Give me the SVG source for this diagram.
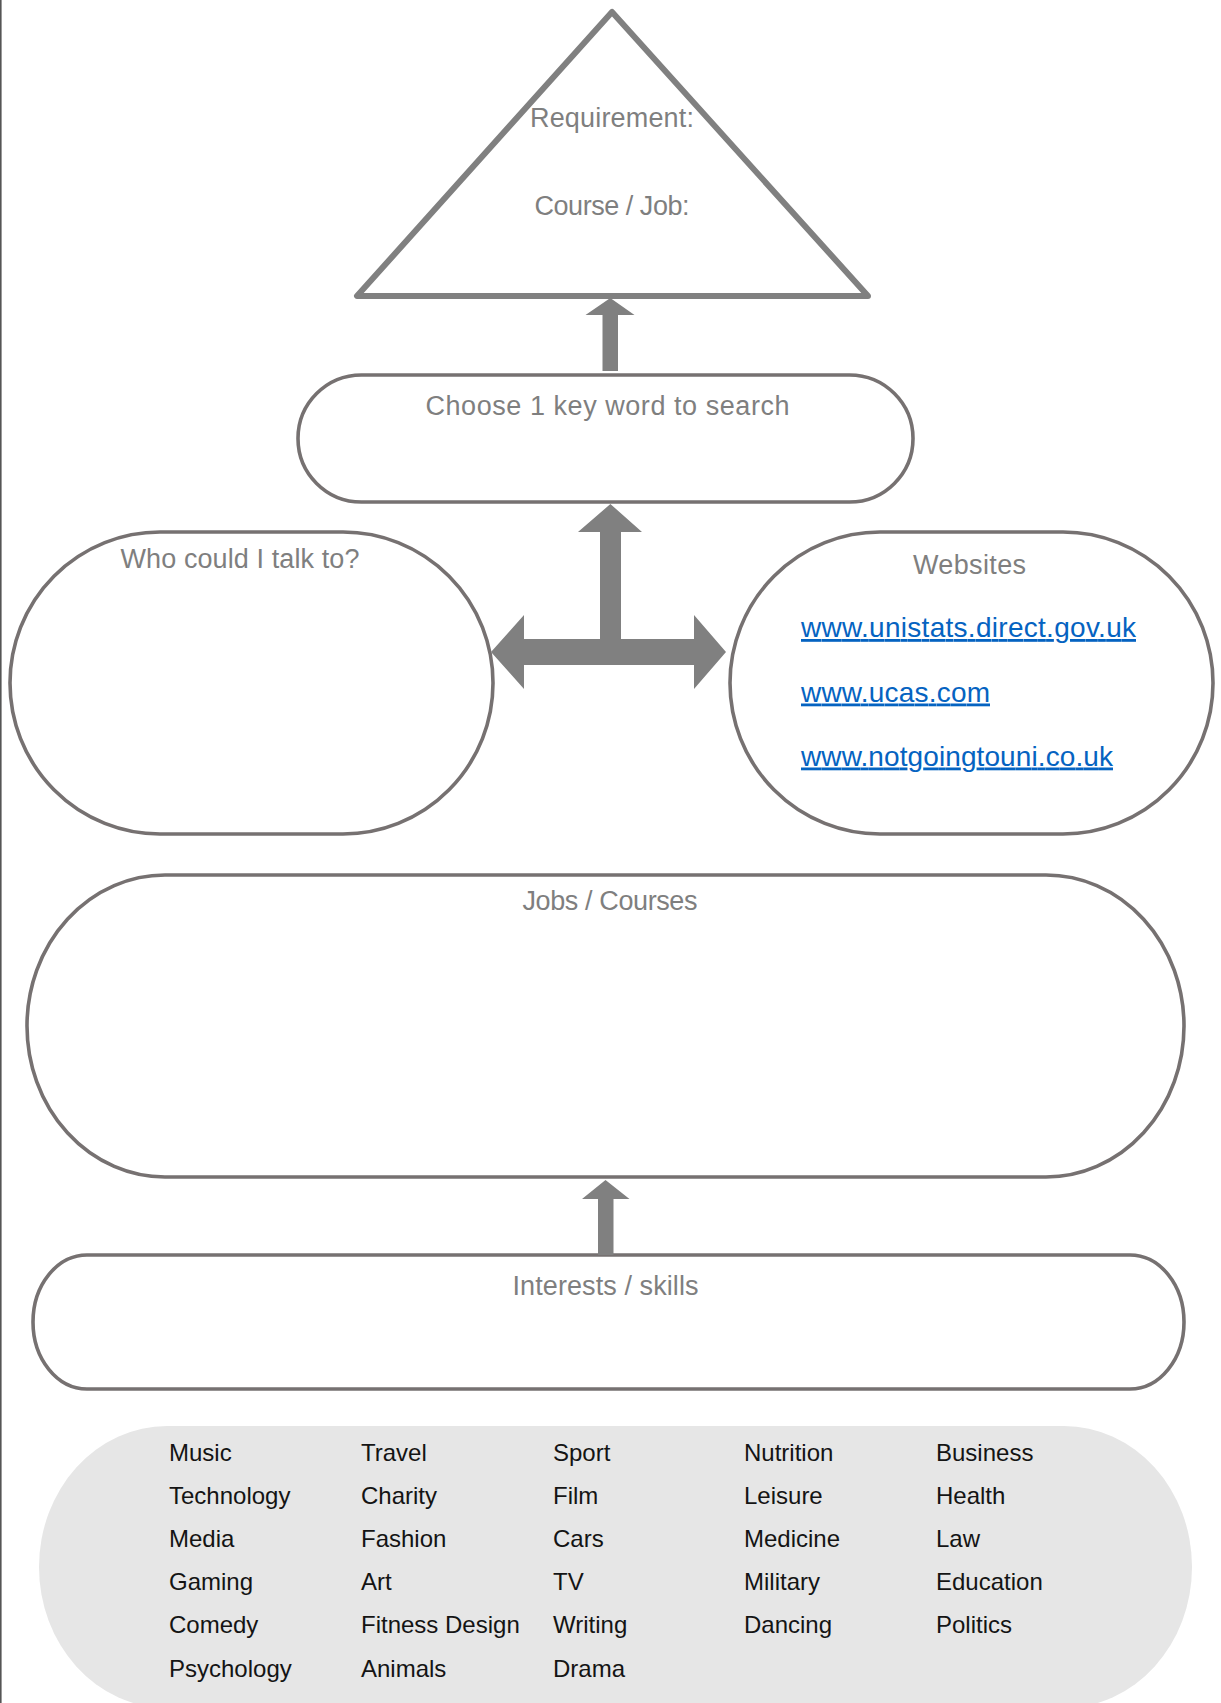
<svg xmlns="http://www.w3.org/2000/svg" width="1221" height="1703" viewBox="0 0 1221 1703">
<style>
.pill{fill:#ffffff;stroke:#767171;stroke-width:3.6}
.tri{fill:#ffffff;stroke:#808080;stroke-width:6;stroke-linejoin:round}
.arrow{fill:#808080;stroke:none}
.head{font-family:"Liberation Sans",Arial,sans-serif;font-size:27px;fill:#7f7f7f;text-anchor:middle}
.link{font-family:"Liberation Sans",Arial,sans-serif;font-size:28px;fill:#0563c1;text-decoration:underline}
.word{font-family:"Liberation Sans",Arial,sans-serif;font-size:24px;fill:#141414}
</style>
<rect x="0" y="0" width="1221" height="1703" fill="#ffffff"/>
<line x1="0.8" y1="0" x2="0.8" y2="1703" stroke="#555555" stroke-width="1.6"/>

<g id="requirement">
<polygon class="tri" points="612,12 357,296 868,296"/>
<text class="head" x="612" y="127" textLength="164">Requirement:</text>
<text class="head" x="612" y="215" textLength="155">Course / Job:</text>
</g>

<g id="keyword">
<rect class="pill" x="298" y="375" width="615" height="127" rx="63.5" ry="63.5"/>
<text class="head" x="607.5" y="415" textLength="364">Choose 1 key word to search</text>
</g>

<g id="talk">
<rect class="pill" x="10" y="532" width="483" height="302" rx="150" ry="151"/>
<text class="head" x="240" y="568" textLength="239">Who could I talk to?</text>
</g>

<g id="websites">
<rect class="pill" x="730" y="532" width="483" height="302" rx="150" ry="151"/>
<text class="head" x="969.5" y="573.5" textLength="113">Websites</text>
<text class="link" x="801" y="637" textLength="335">www.unistats.direct.gov.uk</text>
<text class="link" x="801" y="701.5" textLength="189">www.ucas.com</text>
<text class="link" x="801" y="765.5" textLength="312">www.notgoingtouni.co.uk</text>
</g>

<g id="jobs">
<rect class="pill" x="27" y="875" width="1157" height="302" rx="138" ry="151" stroke-width="4"/>
<text class="head" x="610" y="910" textLength="175">Jobs / Courses</text>
</g>

<g id="interests">
<rect class="pill" x="33" y="1255" width="1151" height="134" rx="54" ry="67" stroke-width="4"/>
<text class="head" x="605.5" y="1294.5" textLength="186">Interests / skills</text>
</g>

<g id="wordlist">
<rect x="39" y="1426" width="1153" height="282" rx="128" ry="141" fill="#e6e6e6"/>
<text class="word" x="169" y="1461">Music</text>
<text class="word" x="169" y="1504">Technology</text>
<text class="word" x="169" y="1547">Media</text>
<text class="word" x="169" y="1590">Gaming</text>
<text class="word" x="169" y="1633">Comedy</text>
<text class="word" x="169" y="1676.5">Psychology</text>
<text class="word" x="361" y="1461">Travel</text>
<text class="word" x="361" y="1504">Charity</text>
<text class="word" x="361" y="1547">Fashion</text>
<text class="word" x="361" y="1590">Art</text>
<text class="word" x="361" y="1633">Fitness Design</text>
<text class="word" x="361" y="1676.5">Animals</text>
<text class="word" x="553" y="1461">Sport</text>
<text class="word" x="553" y="1504">Film</text>
<text class="word" x="553" y="1547">Cars</text>
<text class="word" x="553" y="1590">TV</text>
<text class="word" x="553" y="1633">Writing</text>
<text class="word" x="553" y="1676.5">Drama</text>
<text class="word" x="744" y="1461">Nutrition</text>
<text class="word" x="744" y="1504">Leisure</text>
<text class="word" x="744" y="1547">Medicine</text>
<text class="word" x="744" y="1590">Military</text>
<text class="word" x="744" y="1633">Dancing</text>
<text class="word" x="936" y="1461">Business</text>
<text class="word" x="936" y="1504">Health</text>
<text class="word" x="936" y="1547">Law</text>
<text class="word" x="936" y="1590">Education</text>
<text class="word" x="936" y="1633">Politics</text>
</g>

<g id="connectors">
<polygon class="arrow" points="610.3,298 634.5,315 618,315 618,371 602.5,371 602.5,315 585.5,315"/>
<polygon class="arrow" points="610.4,504 642,532 621,532 621,639 694,639 694,615 726,652 694,689 694,665 524,665 524,689 491,652 524,615 524,639 600,639 600,532 578,532"/>
<polygon class="arrow" points="605.5,1180 629.5,1199 613.5,1199 613.5,1255 598,1255 598,1199 582,1199"/>
</g>
</svg>
